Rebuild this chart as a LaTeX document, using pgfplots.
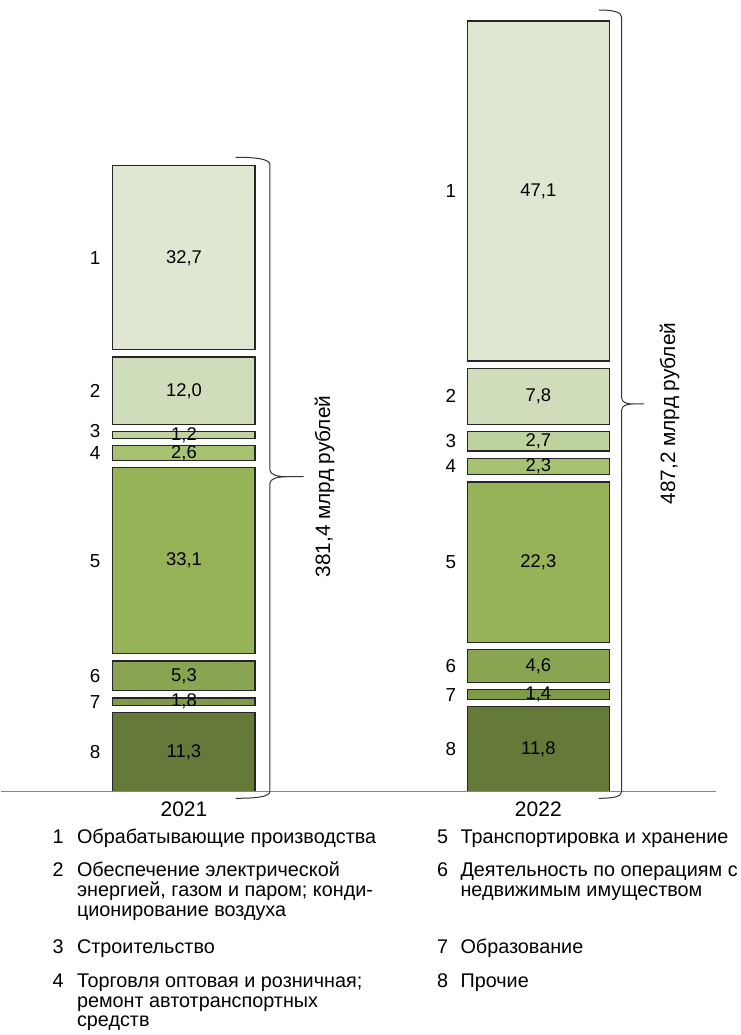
\documentclass[border=0pt]{standalone}
\usepackage{fontspec}
\setmainfont{Liberation Sans}
\usepackage{pgfplots}
\pgfplotsset{compat=1.18}
\usepackage{pgfplotstable}

\definecolor{c1}{HTML}{DFE7D3}
\definecolor{c2}{HTML}{D0DDBB}
\definecolor{c3}{HTML}{BED3A0}
\definecolor{c4}{HTML}{A6C270}
\definecolor{c5}{HTML}{97B358}
\definecolor{c6}{HTML}{8AA552}
\definecolor{c7}{HTML}{7F9B4A}
\definecolor{c8}{HTML}{657A38}
\definecolor{edge}{HTML}{262626}

% segment heights as drawn (billion roubles); 0 = 2021, 1 = 2022
\pgfplotstableread{
x  s8    s7   s6    s5     s4    s3    s2    s1
0  53.6  5.0  20.2  126.2  9.9   4.6   45.8  124.7
1  57.5  6.8  22.4  108.6  11.2  13.2  38.0  230.5
}\heights

% share labels (percent), placed at segment centres
\pgfplotstableread{
x  y       v
0  26.8    11,3
0  61.0    1,8
0  78.5    5,3
0  156.6   33,1
0  229.55  2,6
0  241.7   1,2
0  271.8   12,0
0  361.95  32,7
1  28.75   11,8
1  65.8    1,4
1  85.3    4,6
1  155.7   22,3
1  220.5   2,3
1  237.6   2,7
1  268.1   7,8
1  407.25  47,1
}\vlabels

% segment numbers
\pgfplotstableread{
x       y       n
-0.251  26.8    8
-0.251  61.0    7
-0.251  78.5    6
-0.251  156.6   5
-0.251  229.55  4
-0.251  244.5   3
-0.251  271.8   2
-0.251  361.95  1
0.753   28.75   8
0.753   65.8    7
0.753   85.3    6
0.753   155.7   5
0.753   220.5   4
0.753   237.6   3
0.753   268.1   2
0.753   407.25  1
}\nlabels

\pgfplotsset{
  common/.style={
    at={(0pt,0pt)}, anchor=south west,
    width=370pt, height=517.5pt, scale only axis,
    xmin=-0.51721, xmax=1.57082, ymin=-164.95, ymax=536.75,
    clip=false,
  },
  seg/.style={fill=#1, draw=edge, line width=0.55pt},
  gap/.style={draw=none, fill=none, forget plot},
}

\begin{document}
\begin{tikzpicture}
\begin{axis}[
  common,
  axis x line=middle, axis y line=none,
  x axis line style={draw=none},
  xtick={0,1}, xticklabels={2021,2022},
  major tick length=0pt,
  xticklabel style={font=\fontsize{10.5}{12}\selectfont, anchor=north, inner sep=0pt, yshift=-5.0pt},
  ytick=\empty,
  ybar stacked, bar width=0.4007,
]
\addplot[seg=c8] table[x=x,y=s8]{\heights};
\addplot[gap] coordinates {(0,4.9) (1,4.9)};
\addplot[seg=c7] table[x=x,y=s7]{\heights};
\addplot[gap] coordinates {(0,4.9) (1,4.9)};
\addplot[seg=c6] table[x=x,y=s6]{\heights};
\addplot[gap] coordinates {(0,4.9) (1,4.9)};
\addplot[seg=c5] table[x=x,y=s5]{\heights};
\addplot[gap] coordinates {(0,4.9) (1,4.9)};
\addplot[seg=c4] table[x=x,y=s4]{\heights};
\addplot[gap] coordinates {(0,4.9) (1,4.9)};
\addplot[seg=c3] table[x=x,y=s3]{\heights};
\addplot[gap] coordinates {(0,4.9) (1,4.9)};
\addplot[seg=c2] table[x=x,y=s2]{\heights};
\addplot[gap] coordinates {(0,4.9) (1,4.9)};
\addplot[seg=c1] table[x=x,y=s1]{\heights};
\end{axis}

\begin{axis}[common, hide axis]
\addplot[only marks, mark=none, nodes near coords, point meta=explicit symbolic,
  every node near coord/.append style={anchor=center, inner sep=0pt, font=\fontsize{9.2}{11}\selectfont, text=black}]
  table[x=x, y=y, meta=v]{\vlabels};
\addplot[only marks, mark=none, nodes near coords, point meta=explicit symbolic,
  every node near coord/.append style={anchor=center, inner sep=0pt, font=\fontsize{9.4}{11}\selectfont, text=black}]
  table[x=x, y=y, meta=n]{\nlabels};
\end{axis}

\begin{scope}[x=0.5pt, y=-0.5pt, shift={(0pt,517.5pt)}]
\path (0,0) rectangle (740,1035);
% base line
\draw[color=gray!95, line width=0.65pt] (0,791.7) -- (715,791.7);
% brace 2021
\draw[color=black!80, line width=0.5pt]
  (235,157.3) .. controls (256,157.3) and (269.3,159) .. (269.3,165)
  -- (269.3,470) .. controls (269.3,474.5) and (276,476.7) .. (287,476.7) -- (303,476.7)
  (287,476.7) .. controls (276,476.7) and (269.3,478.9) .. (269.3,483.4)
  -- (269.3,791) .. controls (269.3,797) and (256,798.3) .. (235,798.3);
% brace 2022
\draw[color=black!80, line width=0.5pt]
  (598.3,10) .. controls (612,10) and (621,12) .. (621,17)
  -- (621,397.5) .. controls (621,402) and (625,404) .. (632,404) -- (643.3,404)
  (632,404) .. controls (625,404) and (621,406) .. (621,410.5)
  -- (621,791.5) .. controls (621,797) and (612,798.3) .. (598.3,798.3);
% totals
\node[rotate=90, anchor=center, inner sep=0pt, font=\fontsize{10.4}{12}\selectfont] at (324,486.5) {381,4 млрд рублей};
\node[rotate=90, anchor=center, inner sep=0pt, font=\fontsize{10.4}{12}\selectfont] at (669,413.5) {487,2 млрд рублей};
% key
\begin{scope}[every node/.style={anchor=base west, inner sep=0pt, font=\fontsize{9.9}{11}\selectfont}]
\node at (51.5,844) {1};
\node at (76,844) {Обрабатывающие производства};
\node at (51.5,876.7) {2};
\node at (76,876.7) {Обеспечение электрической};
\node at (76,896.7) {энергией, газом и паром; конди-};
\node at (76,916.7) {ционирование воздуха};
\node at (51.5,953.3) {3};
\node at (76,953.3) {Строительство};
\node at (51.5,987.3) {4};
\node at (76,987.3) {Торговля оптовая и розничная;};
\node at (76,1007.3) {ремонт автотранспортных};
\node at (76,1026.7) {средств};
\node at (436,844) {5};
\node at (459.5,844) {Транспортировка и хранение};
\node at (436,876.7) {6};
\node at (459.5,876.7) {Деятельность по операциям с};
\node at (459.5,896.7) {недвижимым имуществом};
\node at (436,953.3) {7};
\node at (459.5,953.3) {Образование};
\node at (436,987.3) {8};
\node at (459.5,987.3) {Прочие};
\end{scope}
\end{scope}
\end{tikzpicture}
\end{document}
